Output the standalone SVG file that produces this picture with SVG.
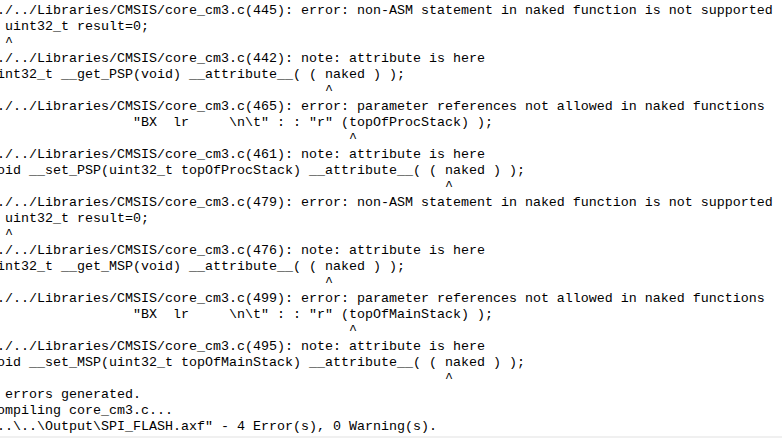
<svg xmlns="http://www.w3.org/2000/svg" width="782" height="438" viewBox="0 0 782 438">
<style>
.t{font-family:"Liberation Mono","Courier New",monospace;font-size:13.333px;fill:#000;white-space:pre}
</style>
<rect x="0" y="0" width="782" height="438" fill="#ffffff"/>
<rect x="0" y="436" width="782" height="2" fill="#f0f0f0"/>
<g id="output" xml:space="preserve">
<text class="t" x="-3" y="14">./../Libraries/CMSIS/core_cm3.c(445): error: non-ASM statement in naked function is not supported</text>
<text class="t" x="-3" y="30"> uint32_t result=0;</text>
<text class="t" x="-3" y="46"> ^</text>
<text class="t" x="-3" y="62">./../Libraries/CMSIS/core_cm3.c(442): note: attribute is here</text>
<text class="t" x="-3" y="78">int32_t __get_PSP(void) __attribute__( ( naked ) );</text>
<text class="t" x="-3" y="94">                                         ^</text>
<text class="t" x="-3" y="110">./../Libraries/CMSIS/core_cm3.c(465): error: parameter references not allowed in naked functions</text>
<text class="t" x="-3" y="126">                 "BX  lr     \n\t" : : "r" (topOfProcStack) );</text>
<text class="t" x="-3" y="142">                                            ^</text>
<text class="t" x="-3" y="158">./../Libraries/CMSIS/core_cm3.c(461): note: attribute is here</text>
<text class="t" x="-3" y="174">oid __set_PSP(uint32_t topOfProcStack) __attribute__( ( naked ) );</text>
<text class="t" x="-3" y="190">                                                        ^</text>
<text class="t" x="-3" y="206">./../Libraries/CMSIS/core_cm3.c(479): error: non-ASM statement in naked function is not supported</text>
<text class="t" x="-3" y="222"> uint32_t result=0;</text>
<text class="t" x="-3" y="238"> ^</text>
<text class="t" x="-3" y="254">./../Libraries/CMSIS/core_cm3.c(476): note: attribute is here</text>
<text class="t" x="-3" y="270">int32_t __get_MSP(void) __attribute__( ( naked ) );</text>
<text class="t" x="-3" y="286">                                         ^</text>
<text class="t" x="-3" y="302">./../Libraries/CMSIS/core_cm3.c(499): error: parameter references not allowed in naked functions</text>
<text class="t" x="-3" y="318">                 "BX  lr     \n\t" : : "r" (topOfMainStack) );</text>
<text class="t" x="-3" y="334">                                            ^</text>
<text class="t" x="-3" y="350">./../Libraries/CMSIS/core_cm3.c(495): note: attribute is here</text>
<text class="t" x="-3" y="366">oid __set_MSP(uint32_t topOfMainStack) __attribute__( ( naked ) );</text>
<text class="t" x="-3" y="382">                                                        ^</text>
<text class="t" x="-3" y="398"> errors generated.</text>
<text class="t" x="-3" y="414">ompiling core_cm3.c...</text>
<text class="t" x="-3" y="430">..\..\Output\SPI_FLASH.axf" - 4 Error(s), 0 Warning(s).</text>
</g>
</svg>
